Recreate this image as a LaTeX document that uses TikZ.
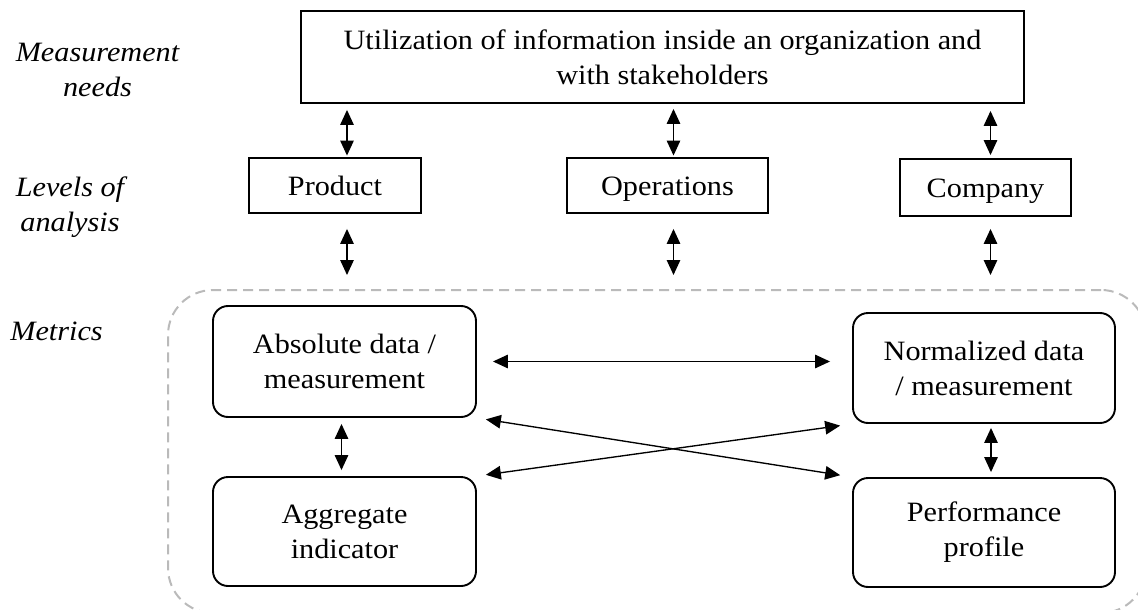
\documentclass[tikz,border=0pt]{standalone}
\usepackage{fontspec}
\setmainfont{Liberation Serif}[FakeStretch=1.08]
\usetikzlibrary{arrows.meta,calc}
\begin{document}
\begin{tikzpicture}[x=1pt,y=-1pt,
  every node/.style={font=\fontsize{28}{35}\selectfont},
  sqbox/.style={draw,line width=1.9pt,align=center,inner sep=0pt},
  onebox/.style={sqbox,text height=19pt,text depth=0pt},
  rbox/.style={sqbox,rounded corners=15pt},
  lbl/.style={align=center,font=\fontsize{28}{35}\selectfont\itshape},
  dbl/.style={{Triangle[length=15pt,width=13.5pt]}-{Triangle[length=15pt,width=13.5pt]},line width=1.35pt},
  zone/.style={draw=black!27,line width=2pt,dash pattern=on 10pt off 6pt,rounded corners=45pt,inner sep=0pt}]
\useasboundingbox (0,0) rectangle (1138,610);

% dashed region around the metrics
\node[zone,minimum width=978pt,minimum height=323pt] (zone) at (657,451.5) {};

% boxes
\node[sqbox,minimum width=723pt,minimum height=92pt] (top) at (662.5,57)
  {Utilization of information inside an organization and\\with stakeholders};
\node[onebox,minimum width=172pt,minimum height=55pt] (prod) at (335,185.5) {Product};
\node[onebox,minimum width=201pt,minimum height=55pt] (ops) at (667.5,185.5) {Operations};
\node[onebox,minimum width=171pt,minimum height=57pt] (comp) at (985.5,187.5) {Company};
\node[rbox,minimum width=263pt,minimum height=111pt] (abs) at (344.5,361.5) {Absolute data /\\measurement};
\node[rbox,minimum width=263pt,minimum height=109pt] (agg) at (344.5,531.5) {Aggregate\\indicator};
\node[rbox,minimum width=262pt,minimum height=110pt] (norm) at (984,368) {Normalized data\\/ measurement};
\node[rbox,minimum width=262pt,minimum height=109pt] (perf) at (984,532.5) {Performance\\profile};

% row labels
\node[lbl] (lneeds) at (97.5,70) {Measurement\\needs};
\node[lbl] (llevels) at (70,207) {Levels of\\analysis};
\node[lbl,anchor=base] (lmetrics) at (56.5,340.7) {Metrics};

% attachment points of the vertical arrows
\coordinate (pu) at ([xshift=12pt]prod.north);
\coordinate (ou) at ([xshift=6pt]ops.north);
\coordinate (cu) at ([xshift=5pt]comp.north);
\coordinate (pd) at ([xshift=12pt]prod.south);
\coordinate (od) at ([xshift=6pt]ops.south);
\coordinate (cd) at ([xshift=5pt]comp.south);
\coordinate (ad) at ([xshift=-3pt]abs.south);
\coordinate (nd) at ([xshift=7pt]norm.south);

% needs <-> levels
\draw[dbl,shorten <=6pt,shorten >=1.5pt] (top.south -| pu) -- (pu);
\draw[dbl,shorten <=5pt,shorten >=1.5pt] (top.south -| ou) -- (ou);
\draw[dbl,shorten <=7pt,shorten >=3pt] (top.south -| cu) -- (cu);

% levels <-> metrics
\draw[dbl,shorten <=15pt,shorten >=14pt] (pd) -- (pd |- zone.north);
\draw[dbl,shorten <=15pt,shorten >=14pt] (od) -- (od |- zone.north);
\draw[dbl,shorten <=12pt,shorten >=14pt] (cd) -- (cd |- zone.north);

% metrics links
\draw[dbl,shorten <=6pt,shorten >=6pt] (ad) -- (ad |- agg.north);
\draw[dbl,shorten <=4pt,shorten >=5pt] (nd) -- (nd |- perf.north);
\draw[dbl,shorten <=16pt,shorten >=22pt] (abs.east) -- (abs.east -| norm.west);
\draw[dbl,shorten <=9pt,shorten >=12pt] (abs.south east) -- (perf.north west);
\draw[dbl,shorten <=9pt,shorten >=12pt] (agg.north east) -- (norm.south west);
\end{tikzpicture}
\end{document}
